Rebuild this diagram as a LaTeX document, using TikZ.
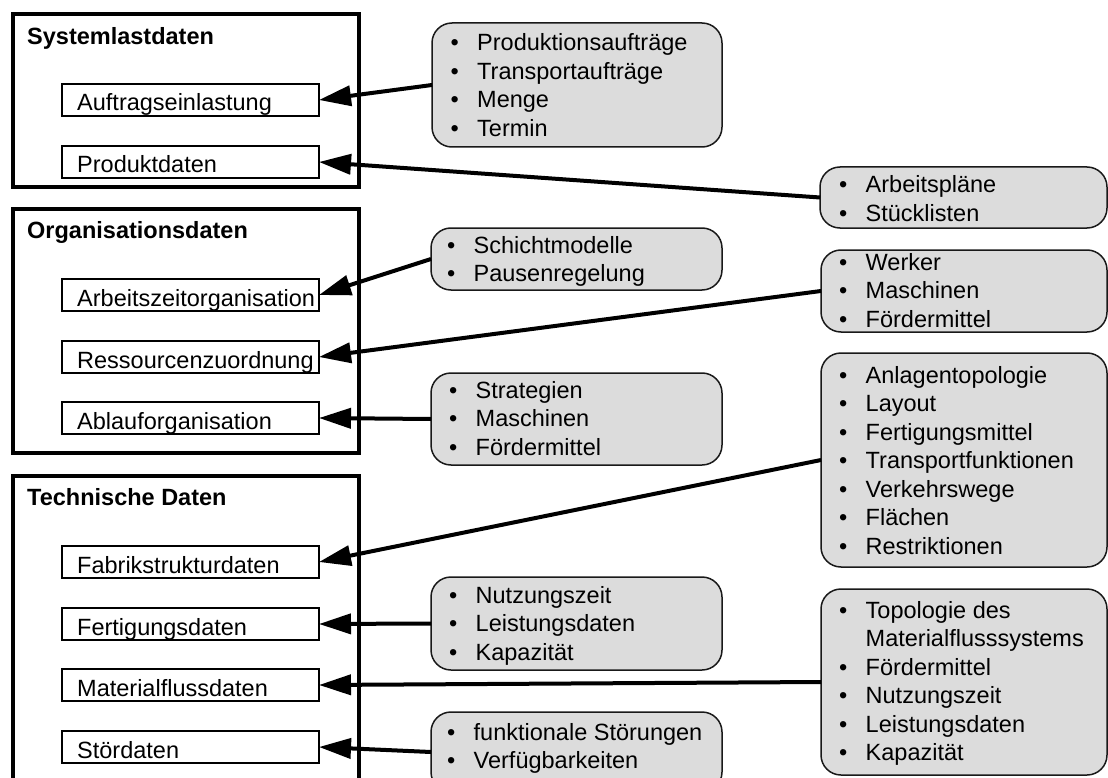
\documentclass[tikz,border=0pt]{standalone}
\usepackage{fontspec}
\setmainfont{Liberation Sans}
\usetikzlibrary{arrows.meta}
\definecolor{listgrey}{HTML}{DCDCDC}
\newcommand\bl[1]{\makebox[26.5pt][l]{\textbullet}#1}
\newcommand\cont[1]{\hspace*{26.5pt}#1}
\tikzset{
  group/.style={draw, line width=4pt, inner sep=0pt, outer sep=0pt, anchor=north west},
  grouptitle/.style={anchor=base west, inner sep=0pt, font=\fontsize{23.5}{28.5}\selectfont\bfseries},
  itembox/.style={draw, line width=1.5pt, inner sep=0pt, outer sep=0pt, anchor=north west,
    minimum width=257pt, minimum height=32pt},
  itemtext/.style={anchor=base west, inner sep=0pt, font=\fontsize{23.5}{28.5}\selectfont},
  listbox/.style={draw=black!90, fill=listgrey, line width=1.5pt, rounded corners=20pt,
    inner sep=0pt, outer sep=0pt, anchor=north west},
  listtext/.style={anchor=base west, inner sep=0pt, font=\fontsize{23.5}{28.5}\selectfont},
  conn/.style={line width=4pt, -{Triangle[length=32pt,width=20pt]}},
}
\begin{document}
\begin{tikzpicture}[x=1pt,y=-1pt]
\useasboundingbox (0,0) rectangle (1108,778);
\clip (0,0) rectangle (1108,778);
\fill[white] (0,0) rectangle (1108,778);

% group frames
\node[group, minimum width=346pt, minimum height=173pt] (sys) at (13,14) {};
\node[group, minimum width=346pt, minimum height=244pt] (org) at (13,209) {};
\node[group, minimum width=346pt, minimum height=340pt] (tech) at (13,476) {};
\node[grouptitle] (sysT) at (27,45) {Systemlastdaten};
\node[grouptitle] (orgT) at (27,238) {Organisationsdaten};
\node[grouptitle] (techT) at (27,505) {Technische Daten};

% data categories
\node[itembox] (auf) at (62,84) {};
\node[itembox] (prod) at (62,146) {};
\node[itembox] (azo) at (62,279) {};
\node[itembox] (res) at (62,341) {};
\node[itembox] (abl) at (62,402) {};
\node[itembox] (fab) at (62,546) {};
\node[itembox] (fert) at (62,608) {};
\node[itembox] (mat) at (62,669) {};
\node[itembox] (stoer) at (62,731) {};
\foreach \n/\t in {auf/Auftragseinlastung, prod/Produktdaten, azo/Arbeitszeitorganisation,
  res/Ressourcenzuordnung, abl/Ablauforganisation, fab/Fabrikstrukturdaten,
  fert/Fertigungsdaten, mat/Materialflussdaten, stoer/Stördaten}
  \node[itemtext] (\n T) at ([xshift=15pt,yshift=5pt]\n.south west) {\t};

% detail lists
\node[listbox, minimum width=290pt, minimum height=124pt] (lauf) at (432,23) {};
\node[listbox, minimum width=287pt, minimum height=61pt] (lprod) at (820,167) {};
\node[listbox, minimum width=291pt, minimum height=62pt] (lazo) at (431,228) {};
\node[listbox, minimum width=286pt, minimum height=82pt] (lres) at (821,250) {};
\node[listbox, minimum width=291pt, minimum height=92pt] (labl) at (431,373) {};
\node[listbox, minimum width=286pt, minimum height=214pt] (lfab) at (821,353) {};
\node[listbox, minimum width=291pt, minimum height=93pt] (lfert) at (431,577) {};
\node[listbox, minimum width=286pt, minimum height=186pt] (lmat) at (821,589) {};
\node[listbox, minimum width=291pt, minimum height=80pt] (lstoer) at (431,712) {};

\node[listtext] (laufT) at (450.5,51) {\begin{tabular}[t]{@{}l@{}}
  \bl{Produktionsaufträge}\\ \bl{Transportaufträge}\\ \bl{Menge}\\ \bl{Termin}\end{tabular}};
\node[listtext] (lprodT) at (839,193) {\begin{tabular}[t]{@{}l@{}}
  \bl{Arbeitspläne}\\ \bl{Stücklisten}\end{tabular}};
\node[listtext] (lazoT) at (447,253) {\begin{tabular}[t]{@{}l@{}}
  \bl{Schichtmodelle}\\ \bl{Pausenregelung}\end{tabular}};
\node[listtext] (lresT) at (839,270) {\begin{tabular}[t]{@{}l@{}}
  \bl{Werker}\\ \bl{Maschinen}\\ \bl{Fördermittel}\end{tabular}};
\node[listtext] (lablT) at (449,398) {\begin{tabular}[t]{@{}l@{}}
  \bl{Strategien}\\ \bl{Maschinen}\\ \bl{Fördermittel}\end{tabular}};
\node[listtext] (lfabT) at (839,383) {\begin{tabular}[t]{@{}l@{}}
  \bl{Anlagentopologie}\\ \bl{Layout}\\ \bl{Fertigungsmittel}\\ \bl{Transportfunktionen}\\
  \bl{Verkehrswege}\\ \bl{Flächen}\\ \bl{Restriktionen}\end{tabular}};
\node[listtext] (lfertT) at (449,603) {\begin{tabular}[t]{@{}l@{}}
  \bl{Nutzungszeit}\\ \bl{Leistungsdaten}\\ \bl{Kapazität}\end{tabular}};
\node[listtext] (lmatT) at (839,618) {\begin{tabular}[t]{@{}l@{}}
  \bl{Topologie des}\\ \cont{Materialflusssystems}\\ \bl{Fördermittel}\\ \bl{Nutzungszeit}\\
  \bl{Leistungsdaten}\\ \bl{Kapazität}\end{tabular}};
\node[listtext] (lstoerT) at (447,740) {\begin{tabular}[t]{@{}l@{}}
  \bl{funktionale Störungen}\\ \bl{Verfügbarkeiten}\end{tabular}};

% connectors
\draw[conn] (lauf.west) -- (auf.east);
\draw[conn] (lprod.west) -- (prod.east);
\draw[conn] (lazo.west) -- (azo.east);
\draw[conn] (lres.west) -- (res.east);
\draw[conn] (labl.west) -- (abl.east);
\draw[conn] (lfab.west) -- (fab.east);
\draw[conn] (lfert.west) -- (fert.east);
\draw[conn] (lmat.west) -- (mat.east);
\draw[conn] (lstoer.west) -- (stoer.east);
\end{tikzpicture}
\end{document}
